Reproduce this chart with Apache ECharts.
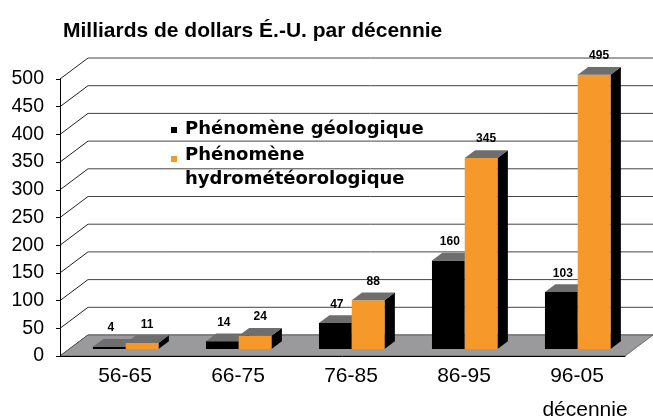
<!DOCTYPE html>
<html>
<head>
<meta charset="utf-8">
<script src="https://cdn.jsdelivr.net/npm/echarts@6/dist/echarts.min.js"></script>
<style>
  html, body { margin: 0; padding: 0; background: #fff; }
  #main { width: 653px; height: 420px; }
</style>
</head>
<body>
<div id="main"></div>
<script>
// données
const categories = ['56-65', '66-75', '76-85', '86-95', '96-05'];
const seriesNames = ['Phénomène géologique', 'Phénomène\nhydrométéorologique'];
const geoValues = [4, 14, 47, 160, 103];
const hydroValues = [11, 24, 88, 345, 495];
const yTicks = [0, 50, 100, 150, 200, 250, 300, 350, 400, 450, 500];

const colors = ['#000000', '#f7982a'];
const TOP_COLOR = '#6e6e6e';
const FLOOR_COLOR = '#9a9a9c';
const DEPTH = [28, -21];   // décalage de profondeur (fond du mur)
const F1 = 0.33, F2 = 0.70; // position des barres dans la profondeur
const BAR_W = 0.29;         // largeur d'une barre / largeur de catégorie
const LABEL_DX = [1.5, 5];

const chart = echarts.init(document.getElementById('main'));

function wallItem(params, api) {
  const cs = params.coordSys;
  const y = api.coord([0, api.value(0)])[1];
  const x0 = cs.x;
  const x1 = cs.x + cs.width;
  return {
    type: 'group',
    children: [{
      type: 'line',
      shape: { x1: x0, y1: y, x2: x0 + DEPTH[0], y2: y + DEPTH[1] },
      style: { stroke: '#222', lineWidth: 1 }
    }, {
      type: 'line',
      shape: { x1: x0 + DEPTH[0], y1: y + DEPTH[1], x2: x1 + DEPTH[0], y2: y + DEPTH[1] },
      style: { stroke: '#444', lineWidth: 1 }
    }]
  };
}

function floorItem(params, api) {
  const cs = params.coordSys;
  const y = api.coord([0, 0])[1];
  const x0 = cs.x, x1 = cs.x + cs.width;
  return {
    type: 'polygon',
    shape: {
      points: [[x0, y], [x1, y], [x1 + DEPTH[0], y + DEPTH[1]], [x0 + DEPTH[0], y + DEPTH[1]]]
    },
    style: { fill: FLOOR_COLOR, stroke: '#555', lineWidth: 0.8 }
  };
}

function barItem(si) {
  return function (params, api) {
    const i = api.value(0);
    const v = api.value(1);
    const base = api.coord([i, 0]);
    const top = api.coord([i, v]);
    const w = api.size([1, 0])[0] * BAR_W;
    const x0 = base[0] + (si === 0 ? -w : 0);
    const ax = DEPTH[0] * F1, ay = DEPTH[1] * F1;
    const bx = DEPTH[0] * F2, by = DEPTH[1] * F2;
    const ty = top[1], yb = base[1];
    return {
      type: 'group',
      children: [{
        type: 'polygon',
        shape: { points: [[x0 + w + ax, ty + ay], [x0 + w + bx, ty + by], [x0 + w + bx, yb + by], [x0 + w + ax, yb + ay]] },
        style: { fill: '#000' }
      }, {
        type: 'rect',
        shape: { x: x0 + ax, y: ty + ay, width: w, height: yb - ty },
        style: { fill: colors[si] }
      }, {
        type: 'polygon',
        shape: { points: [[x0 + ax, ty + ay], [x0 + w + ax, ty + ay], [x0 + w + bx, ty + by], [x0 + bx, ty + by]] },
        style: { fill: TOP_COLOR }
      }, {
        type: 'text',
        style: {
          text: String(v),
          x: x0 + ax + w / 2 + LABEL_DX[si],
          y: ty + by - 11,
          align: 'center',
          verticalAlign: 'middle',
          font: 'bold 12px "Liberation Sans", Arial, sans-serif',
          fill: '#000'
        }
      }]
    };
  };
}

const legendChildren = [{
  type: 'rect',
  shape: { x: 155, y: 104, width: 262, height: 88 },
  style: { fill: '#fff' }
}];
const legendLines = [[129.5], [155, 179.5]];
seriesNames.forEach(function (name, k) {
  legendChildren.push({
    type: 'rect',
    shape: { x: 171, y: k === 0 ? 127 : 156, width: 6, height: 6 },
    style: { fill: colors[k] }
  });
  name.split('\n').forEach(function (line, j) {
    legendChildren.push({
      type: 'text',
      style: {
        text: line,
        x: 185,
        y: legendLines[k][j],
        verticalAlign: 'middle',
        font: 'bold 18px "DejaVu Sans", sans-serif',
        fill: '#000'
      }
    });
  });
});

chart.setOption({
  animation: false,
  backgroundColor: '#fff',
  title: {
    text: 'Milliards de dollars É.-U. par décennie',
    left: 58,
    top: 16,
    textStyle: { fontFamily: 'Liberation Sans', fontWeight: 'bold', fontSize: 21, color: '#000' }
  },
  grid: { left: 60, right: 28, top: 79, bottom: 64 },
  xAxis: {
    type: 'category',
    data: categories,
    z: 4,
    axisLine: { lineStyle: { color: '#000', width: 1 } },
    axisTick: { length: 4, lineStyle: { color: '#000' } },
    axisLabel: {
      fontFamily: 'Liberation Sans', fontSize: 21, color: '#000', margin: 10,
      padding: [0, 0, 0, 17]
    }
  },
  yAxis: {
    type: 'value',
    min: 0,
    max: 500,
    interval: 50,
    z: 4,
    axisLine: { show: true, lineStyle: { color: '#000', width: 1 } },
    axisTick: { show: true, length: 4, lineStyle: { color: '#000' } },
    splitLine: { show: false },
    axisLabel: { fontFamily: 'Liberation Sans', fontSize: 19.5, color: '#000', margin: 16 }
  },
  graphic: [{
    type: 'group',
    z: 10,
    children: legendChildren
  }, {
    type: 'text',
    z: 10,
    style: {
      text: 'décennie',
      x: 585,
      y: 410,
      align: 'center',
      verticalAlign: 'middle',
      font: '21px "Liberation Sans", Arial, sans-serif',
      fill: '#000'
    }
  }],
  series: [{
    type: 'custom',
    name: 'mur',
    z: 1,
    renderItem: wallItem,
    data: yTicks.map(function (t) { return [t]; }),
    silent: true
  }, {
    type: 'custom',
    name: 'sol',
    z: 2,
    renderItem: floorItem,
    data: [[0]],
    silent: true
  }, {
    type: 'custom',
    name: seriesNames[0],
    z: 3,
    renderItem: barItem(0),
    data: geoValues.map(function (v, i) { return [i, v]; })
  }, {
    type: 'custom',
    name: seriesNames[1],
    z: 3,
    renderItem: barItem(1),
    data: hydroValues.map(function (v, i) { return [i, v]; })
  }]
});
</script>
</body>
</html>
